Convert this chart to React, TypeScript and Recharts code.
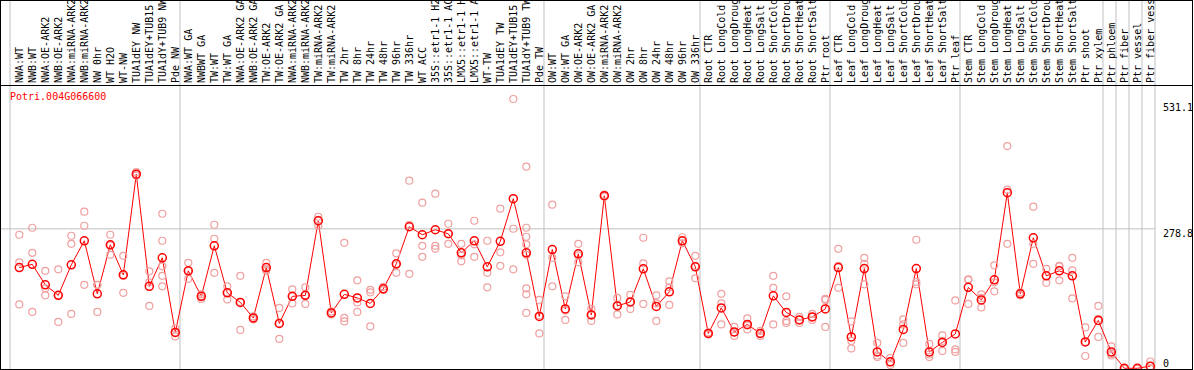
import React from "react";
import { ComposedChart, Line, Scatter, XAxis, YAxis, ReferenceLine } from "recharts";

// sample names as printed (cut to the width of the label band)
const labels = [
  "NWA:WT", "NWB:WT", "NWA:OE-ARK2", "NWB:OE-ARK2", "NWA:miRNA-ARK2", "NWB:miRNA-ARK2",
  "NW 0hr", "WT H2O", "WT-NW", "TUA1dEY NW", "TUA1dEY+TUB15", "TUA1dY+TUB9 NW", "Pde NW",
  "NWA:WT GA", "NWBWT GA", "TW:WT", "TW:WT GA", "NWA:OE-ARK2 GA", "NWB:OE-ARK2 GA",
  "TW:OE-ARK2", "TW:OE-ARK2 GA", "NWA:miRNA-ARK2", "NWB:miRNA-ARK2", "TW:miRNA-ARK2",
  "TW:miRNA-ARK2", "TW 2hr", "TW 8hr", "TW 24hr", "TW 48hr", "TW 96hr", "TW 336hr",
  "WT ACC", "35S::etr1-1 H2", "35S::etr1-1 AC", "LMX5::etr1-1 H", "LMX5::etr1-1 A",
  "WT-TW", "TUA1dEY TW", "TUA1dEY+TUB15", "TUA1dY+TUB9 TW", "Pde TW",
  "OW:WT", "OW:WT GA", "OW:OE-ARK2", "OW:OE-ARK2 GA", "OW:miRNA-ARK2", "OW:miRNA-ARK2",
  "OW 2hr", "OW 8hr", "OW 24hr", "OW 48hr", "OW 96hr", "OW 336hr",
  "Root CTR", "Root LongCold", "Root LongDroug", "Root LongHeat", "Root LongSalt",
  "Root ShortCold", "Root ShortDrou", "Root ShortHeat", "Root ShortSalt", "Ptr root",
  "Leaf CTR", "Leaf LongCold", "Leaf LongDroug", "Leaf LongHeat", "Leaf LongSalt",
  "Leaf ShortCold", "Leaf ShortDrou", "Leaf ShortHeat", "Leaf ShortSalt", "Ptr leaf",
  "Stem CTR", "Stem LongCold", "Stem LongDroug", "Stem LongHeat", "Stem LongSalt",
  "Stem ShortCold", "Stem ShortDrou", "Stem ShortHeat", "Stem ShortSalt", "Ptr shoot",
  "Ptr xylem", "Ptr phloem", "Ptr fiber", "Ptr vessel", "Ptr fiber vess",
];

const means = [
  201.5, 208, 167, 146, 207, 255, 149, 247, 187, 388, 164, 221, 72,
  195, 144, 245, 151, 132, 101, 201.5, 90, 144, 146, 295, 111, 148, 141, 130, 159, 209,
  283, 267, 277, 269, 231, 255, 203, 254, 339, 231, 104,
  237.5, 119, 229, 107, 345, 125, 133, 199, 124, 153, 255, 203,
  70, 121, 73, 88, 70, 145, 112, 97, 103, 119,
  201.5, 63, 199.5, 33, 13.4, 78, 199.5, 33, 52, 69,
  162, 137, 177, 351, 149, 261, 185, 195, 185, 53,
  96, 33, 0.5, 0.4, 4.7,
];

const reps = [
  [267, 212, 128], [281, 231, 113], [195, 160, 146], [198, 146, 93], [265, 249, 109],
  [313, 285, 167], [167, 167, 113], [267, 246, 227], [225, 185, 151], [392, 388, 385],
  [194, 172, 125], [309, 255, 204, 185, 164], [80, 72, 64],
  [211, 195, 179], [148, 144, 139], [287, 259, 191], [164, 151, 138], [185, 133, 77],
  [104, 101, 98], [211, 198, 195], [121, 90, 59], [158, 144, 130], [162, 146, 129],
  [303, 297, 285], [114, 111, 108], [251, 101, 94], [176, 132, 113], [157, 152, 84],
  [163, 157, 157], [230, 207, 191], [375, 287, 189], [331, 245, 223], [349, 245, 239],
  [289, 269, 249], [249, 226, 214], [295, 248, 223], [255, 191, 162], [319, 232, 205],
  [538, 279, 198], [403, 281, 263, 248, 227, 160, 148, 111], [137, 106, 70],
  [327, 221, 164], [144, 116, 97], [249, 226, 212], [119, 107, 95], [347, 345, 343],
  [141, 126, 108], [147, 133, 119], [261, 210, 129], [146, 130, 95], [174, 162, 127],
  [262, 255, 250], [225, 205, 180],
  [72, 70, 68], [149, 130, 88], [83, 72, 65], [100, 86, 78], [75, 70, 65],
  [185, 161, 88], [144, 95, 91], [103, 97, 91], [109, 103, 97], [139, 137, 83],
  [239, 205, 161], [94, 55, 40], [221, 209, 168], [51, 26, 23], [21, 12, 7],
  [98, 88, 51], [257, 173, 168], [49, 28, 23], [66, 55, 35], [136, 38, 33],
  [178, 177, 129], [148, 141, 122], [206, 172, 154], [444, 357, 249], [152, 149, 146],
  [323, 249, 209], [199, 185, 171], [205, 204, 176], [221, 196, 140], [82, 53, 25],
  [125, 99, 63], [44, 29, 26], [1, 0.3, 0.2], [0.8, 0.3, 0.1], [14, 0.1, 0],
];

// last sample index of each block of samples
const groupEnds = [12, 40, 52, 62, 72, 83, 84, 85, 86, 87];
const yTicks = [0, 278.8, 531.1];
const gridValue = 278.8;

const X_MIN = -0.715;
const X_MAX = 87.36;
const Y_MAX = 564;
const VALUE_LABEL_X = 1163;
const FONT = "'DejaVu Sans Mono', monospace";

const lineRows = means.map((m, i) => ({ idx: i, mean: m }));
const repPoints = reps.flatMap((vals, i) => vals.map((v) => ({ idx: i, val: v })));
const edges = [X_MIN, ...groupEnds.map((e) => e + 0.36)];

function SampleTick(props: any) {
  const { x, payload } = props;
  return (
    <text
      transform={`translate(${x},83) rotate(-90)`}
      dy="0.36em"
      textAnchor="start"
      fontFamily={FONT}
      fontSize={10}
      fill="#000"
    >
      {labels[payload.value]}
    </text>
  );
}

function ValueTick(props: any) {
  const { y, payload } = props;
  return (
    <text
      x={VALUE_LABEL_X}
      y={y}
      dy={payload.value === 0 ? -2 : 8.5}
      textAnchor="start"
      fontFamily={FONT}
      fontSize={10}
      fill="#000"
    >
      {String(payload.value)}
    </text>
  );
}

function RepDot(props: any) {
  const { cx, cy } = props;
  return <circle cx={cx} cy={cy} r={3.5} fill="none" stroke="#f0a0a0" strokeWidth={1.2} />;
}

export default function App() {
  // fixed so the page never grows a scrollbar
  return (
    <div style={{ position: "fixed", left: 0, top: 0, width: 1194, height: 370, background: "#fff" }}>
      <ComposedChart
        width={1194}
        height={370}
        data={lineRows}
        margin={{ top: 0, right: 0, bottom: 1.5, left: 10 }}
      >
        <XAxis
          dataKey="idx"
          type="number"
          orientation="top"
          height={86}
          domain={[X_MIN, X_MAX]}
          ticks={labels.map((_, i) => i)}
          interval={0}
          tick={<SampleTick />}
          axisLine={false}
          tickLine={false}
        />
        <YAxis
          orientation="right"
          width={39}
          type="number"
          domain={[0, Y_MAX]}
          ticks={yTicks}
          interval={0}
          tick={<ValueTick />}
          axisLine={false}
          tickLine={false}
        />
        {edges.map((e) => (
          <ReferenceLine
            key={e}
            segment={[{ x: e, y: -1 }, { x: e, y: 736 }]}
            stroke="#c0c0c0"
            strokeWidth={1}
            ifOverflow="visible"
          />
        ))}
        <ReferenceLine
          segment={[{ x: -1.5, y: gridValue }, { x: X_MAX, y: gridValue }]}
          stroke="#c0c0c0"
          strokeWidth={1}
          ifOverflow="visible"
        />
        <Scatter data={repPoints} dataKey="val" shape={<RepDot />} isAnimationActive={false} />
        <Line
          dataKey="mean"
          stroke="#ff0000"
          strokeWidth={1}
          dot={{ r: 4, stroke: "#ff0000", strokeWidth: 1.5, fill: "none" }}
          activeDot={false}
          isAnimationActive={false}
        />
      </ComposedChart>
      <div
        style={{
          position: "absolute",
          left: 10,
          top: 91,
          fontFamily: FONT,
          fontSize: 10,
          lineHeight: "12px",
          color: "#ff0000",
        }}
      >
        Potri.004G066600
      </div>
      <div style={{ position: "absolute", left: 0, top: 85, width: 1193, height: 1, background: "#000" }} />
      <div
        style={{
          position: "absolute",
          left: 0,
          top: 0,
          width: 1193,
          height: 370,
          border: "1px solid #000",
          boxSizing: "border-box",
          pointerEvents: "none",
        }}
      />
    </div>
  );
}
